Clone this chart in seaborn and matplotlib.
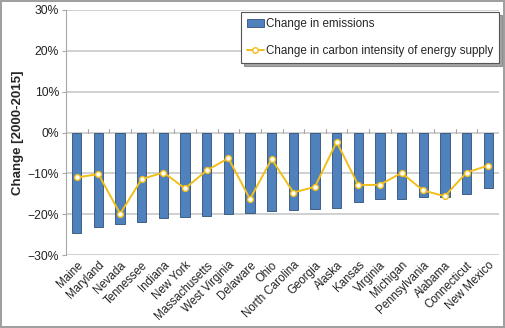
import matplotlib
matplotlib.use("Agg")
import matplotlib.pyplot as plt
import seaborn as sns
import pandas as pd
from matplotlib.patches import Patch
from matplotlib.lines import Line2D
from matplotlib.ticker import PercentFormatter

states = ["Maine", "Maryland", "Nevada", "Tennessee", "Indiana", "New York",
          "Massachusetts", "West Virginia", "Delaware", "Ohio", "North Carolina",
          "Georgia", "Alaska", "Kansas", "Virginia", "Michigan", "Pennsylvania",
          "Alabama", "Connecticut", "New Mexico"]
emissions_change = [-24.7, -23.2, -22.3, -22.0, -21.0, -20.8, -20.4, -19.9, -19.6,
                    -19.3, -19.0, -18.8, -18.4, -17.1, -16.3, -16.2, -15.9, -15.7,
                    -15.0, -13.7]
carbon_intensity_change = [-11.0, -10.2, -19.9, -11.4, -9.8, -13.7, -9.3, -6.3, -16.3,
                           -6.5, -14.7, -13.3, -2.3, -12.9, -12.8, -9.9, -14.2, -15.6,
                           -9.8, -8.1]
y_ticks = [-30, -20, -10, 0, 10, 20, 30]
legend_labels = ["Change in emissions", "Change in carbon intensity of energy supply"]
y_label = "Change [2000-2015]"

df = pd.DataFrame({"state": states,
                   "emissions": emissions_change,
                   "intensity": carbon_intensity_change})

sns.set_style("white")
plt.rcParams["font.family"] = ["Liberation Sans", "DejaVu Sans"]

bar_color = "#4F81BD"
line_color = "#F2BE1A"

fig = plt.figure(figsize=(5.05, 3.28), dpi=100)
fig.patch.set_edgecolor("#A0A0A0")
fig.patch.set_linewidth(1.5)
ax = fig.add_axes([66 / 505, 1 - 255 / 328, (499 - 66) / 505, (255 - 10) / 328])

for t in y_ticks:
    ax.axhline(t, color="#C4C4C4", lw=1.1, zorder=0)

sns.barplot(data=df, x="state", y="emissions", order=states, color=bar_color,
            width=0.43, edgecolor="#2E4F78", linewidth=0.6, saturation=1,
            ax=ax, zorder=2)

# category boundary ticks on the zero line
for i in range(len(states) + 1):
    ax.plot([i - 0.5, i - 0.5], [0, 0.8], color="#A8A8A8", lw=0.8, zorder=1)

sns.pointplot(data=df, x="state", y="intensity", order=states, color=line_color,
              markers="o", markersize=4.2, linewidth=1.4,
              markerfacecolor="white", markeredgecolor=line_color,
              markeredgewidth=1.0, ax=ax, zorder=3)

ax.set_xlim(-0.5, len(states) - 0.5)
ax.set_ylim(-30, 30)
ax.set_yticks(y_ticks)
ax.yaxis.set_major_formatter(PercentFormatter(decimals=0))
ax.tick_params(axis="y", labelsize=8.7, length=3, color="#A8A8A8", width=0.8,
               left=True, pad=2, labelcolor="#222222")
ax.tick_params(axis="x", labelsize=8.3, length=0, pad=3, labelcolor="#222222")
ax.set_xticks(range(len(states)))
ax.set_xticklabels(states, rotation=45, ha="right", rotation_mode="anchor")
ax.set_xlabel("")
ax.set_ylabel(y_label, fontsize=9.5, fontweight="bold", labelpad=3)

for side in ["top", "right", "bottom"]:
    ax.spines[side].set_visible(False)
ax.spines["left"].set_color("#A8A8A8")
ax.spines["left"].set_linewidth(0.8)

handles = [Patch(facecolor=bar_color, edgecolor="#2E4F78", linewidth=0.6),
           Line2D([0], [0], color=line_color, lw=1.4, marker="o", markersize=4,
                  markerfacecolor="white", markeredgecolor=line_color)]
leg = ax.legend(handles, legend_labels, loc="upper right",
                bbox_to_anchor=(1.0, 0.99), fontsize=8.4, frameon=True,
                fancybox=False, shadow=True, handlelength=1.4, handletextpad=0.2,
                labelspacing=1.3, borderpad=0.5, borderaxespad=0.0)
leg.get_frame().set_edgecolor("#555555")
leg.get_frame().set_linewidth(0.8)

fig.savefig("out.png", dpi=100)
